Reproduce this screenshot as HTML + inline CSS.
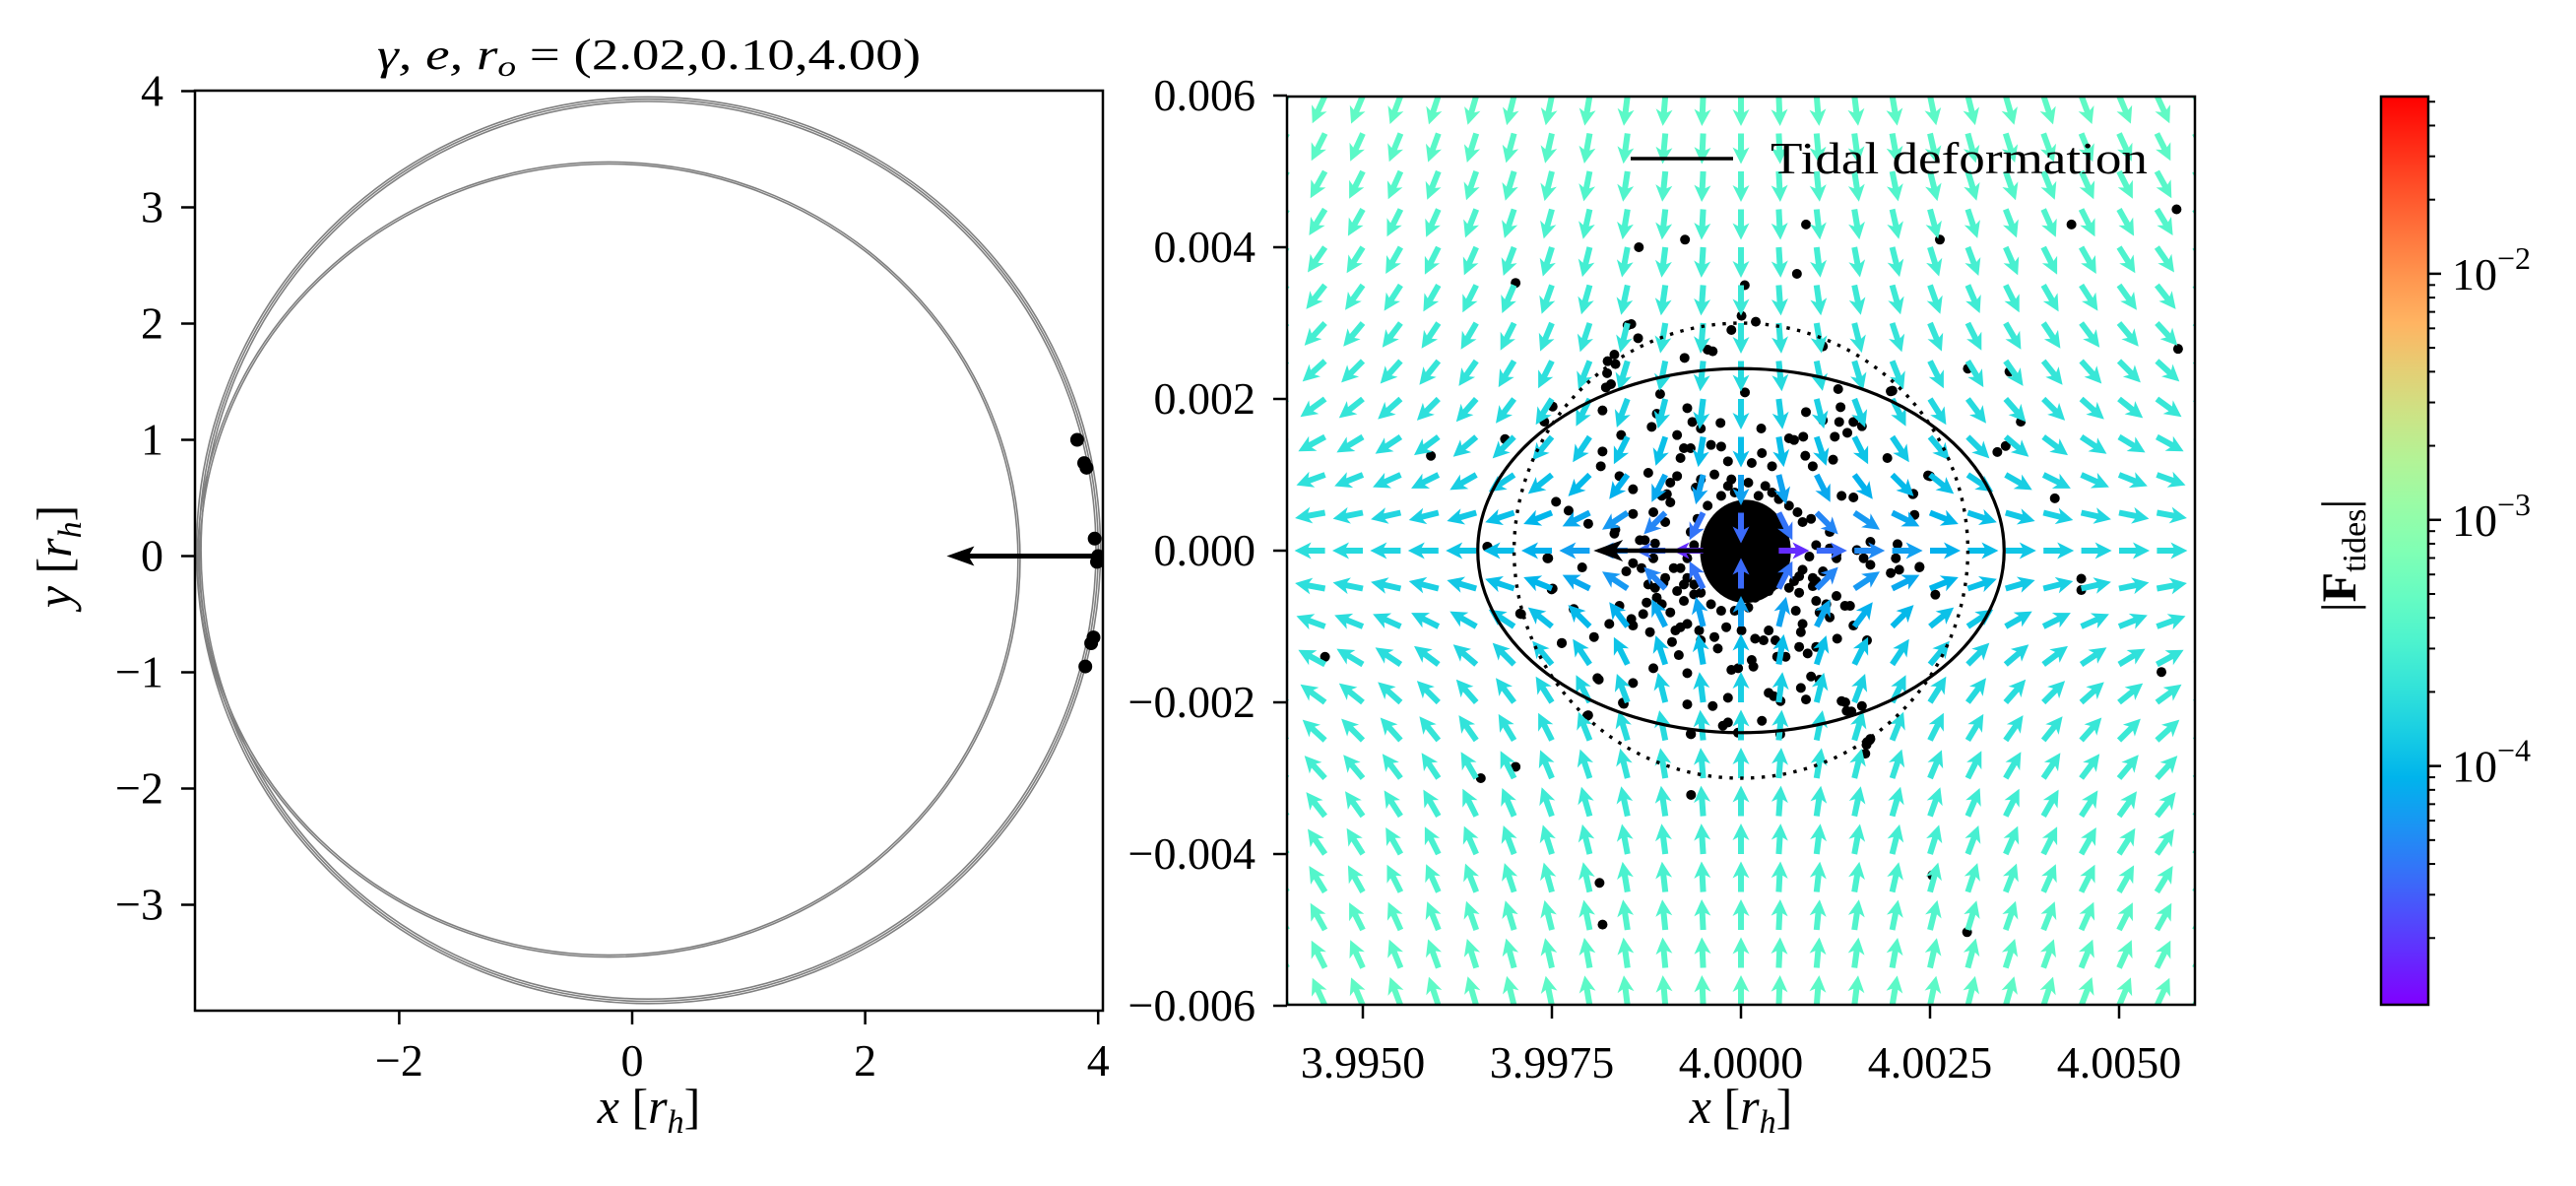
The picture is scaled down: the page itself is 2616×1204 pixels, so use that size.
<!DOCTYPE html>
<html><head><meta charset="utf-8">
<style>
html,body{margin:0;padding:0;background:#fff;}
svg{display:block;font-family:"Liberation Serif",serif;}
</style></head>
<body>
<svg id="fig" xmlns="http://www.w3.org/2000/svg" width="2616" height="1204" viewBox="0 0 2616 1204">
<defs>
<clipPath id="clipL"><rect x="198" y="92" width="922" height="934"/></clipPath>
<clipPath id="clipR"><rect x="1307" y="98" width="922" height="922"/></clipPath>
<linearGradient id="cbgrad" x1="0" y1="1" x2="0" y2="0"></linearGradient>
</defs>
<g id="left"></g>
<g id="right"></g>
<g id="cbar"></g>
</svg>
<script>
// ---------- data ----------
const leftXTicks = [-2, 0, 2, 4];
const leftYTicks = [-3, -2, -1, 0, 1, 2, 3, 4];
// orbit loops: [centerX, centerY, radiusX, radiusY] in r_h
const orbitOuter = [0.14, 0.05, 3.88, 3.90];
const orbitInner = [-0.20, -0.03, 3.53, 3.42];
const outerStrands = [1.0, 0.995, 0.99];
const innerStrands = [1.0, 0.995];
const leftDots = [[3.82,1.0],[3.88,0.8],[3.9,0.76],[3.97,0.15],[4.0,0.0],[3.99,-0.05],[3.96,-0.7],[3.94,-0.75],[3.89,-0.95]];
const leftArrow = [4.0, 0.0, -1.3, 0.0];

const rightXTicks = [3.995, 3.9975, 4.0, 4.0025, 4.005];
const rightXTickLabels = ["3.9950","3.9975","4.0000","4.0025","4.0050"];
const rightYTicks = [-0.006,-0.004,-0.002,0,0.002,0.004,0.006];
const rightYTickLabels = ["\u22120.006","\u22120.004","\u22120.002","0.000","0.002","0.004","0.006"];
const gridX = [-12,-11,-10,-9,-8,-7,-6,-5,-4,-3,-2,-1,0,1,2,3,4,5,6,7,8,9,10,11,12];
const gridY = [-12,-11,-10,-9,-8,-7,-6,-5,-4,-3,-2,-1,0,1,2,3,4,5,6,7,8,9,10,11,12];
const gridStep = [0.0005];
const tidalStrength = [0.034];
const ellipseAxes = [0.00348, 0.0024];
const circleRadius = [0.003];
const clusterCore = [0.6, -0.1, 6.0, 6.8];
const bigArrow = [0.0, 0.0, -0.00195, 0.0];
// scatter outliers in units of 1e-4 r_h offset from (4,0)
const outlierDots = [[57.6,45],[43.7,43],[26.3,41],[8.6,43],[-7.4,41],[-13.5,40],[7.4,36.5],[-29.8,35.3],[0.5,35],[57.8,26.6],[-41,12.5],[37,17],[35,13.8],[33.9,13],[41.5,6.9],[45,-3.7],[45,-5.2],[-55,-14],[55.6,-16],[-34.4,-30],[-29.8,-28.5],[-6.6,-32.2],[-18.7,-43.8],[-18.3,-49.3],[29.9,-50.3],[25.3,-42.8],[16.6,-25.6],[17,-25],[25.7,-5.8],[23.6,-2.2],[30,24],[35.5,23.6],[10.8,27],[19.8,21],[25,9.8],[22.8,7.5],[-15,29.7],[-16.6,24.6],[-17.7,23.4],[-24.9,19],[-26,17],[-31.2,14.7],[-33.5,0.5],[-25.6,-1],[-24.9,-5],[-29.2,-8.3],[-22.1,-7.7],[-23.7,-12.2],[-18.8,-17],[-15.5,-20.2],[-20.2,-21.7],[-0.4,-24],[-6.6,-24.2],[5.2,-24.2],[14.6,-21.2],[13.8,-20]];
// inner scatter read in zoomed pixel coords (u,v) of the central region
const innerDotsUV = [[455,87],[475,130],[405,180],[385,200],[395,270],[380,280],[612,190],[680,165],[695,170],[750,105],[780,62],[822,80],[1020,155],[790,295],[540,300],[530,360],[515,400],[620,343],[635,385],[660,405],[718,388],[838,405],[370,350],[425,425],[370,475],[365,520],[590,425],[610,465],[630,465],[600,495],[690,455],[720,460],[740,505],[810,510],[840,480],[870,520],[920,435],[935,440],[962,430],[968,488],[990,520],[970,355],[1020,380],[1065,285],[1072,340],[1068,385],[1110,385],[1135,398],[1092,418],[1055,430],[1050,500],[1210,495],[1225,290],[1330,548],[1285,605],[1290,668],[1160,750],[1240,757],[1235,800],[1305,826],[1220,845],[1245,835],[1160,820],[1140,800],[1120,775],[1075,610],[1110,615],[1040,720],[1020,840],[1060,800],[1000,870],[990,860],[1030,940],[1060,915],[1085,945],[1100,945],[1040,980],[1010,965],[1000,930],[950,905],[940,960],[960,1000],[955,1025],[1110,1005],[1150,1050],[1062,1045],[1000,1070],[975,1090],[950,1070],[985,1160],[1010,1170],[955,1195],[970,1230],[1075,1235],[1090,1265],[1135,1250],[1150,1360],[1160,1350],[1145,1395],[895,1235],[875,1220],[840,1295],[860,1210],[810,1110],[815,1130],[770,1135],[750,1140],[740,1225],[695,1250],[740,1300],[725,1310],[630,1335],[620,1245],[620,1150],[595,1095],[575,1055],[520,1135],[460,1180],[430,1240],[355,1165],[325,1280],[285,955],[250,1058],[220,895],[130,970],[345,1040],[390,1000],[420,945],[455,985],[460,1005],[490,970],[500,935],[510,1025],[530,920],[545,940],[570,965],[585,1020],[600,1010],[620,1000],[655,1020],[660,1050],[710,1075],[700,1040],[735,1010],[780,1020],[820,1045],[845,1050],[860,1020],[880,1050],[885,1100],[910,1100],[30,765],[210,800],[310,828],[328,695],[270,655],[233,628],[405,725],[408,713],[460,665],[520,660],[555,690],[480,745],[495,745],[525,755],[520,800],[440,840],[460,815],[485,830],[505,880],[525,890],[550,875],[555,860],[580,830],[610,880],[590,900],[610,930],[640,910],[560,605],[570,630],[545,610],[590,550],[570,570],[505,540],[460,590],[420,550],[645,585],[660,560],[700,545],[740,580],[750,560],[800,570],[850,580],[870,600],[890,620],[920,640],[945,660],[960,690],[985,680],[1000,760],[980,795],[960,835],[950,855],[935,870],[1040,770],[1060,790],[990,885],[920,890],[880,880],[860,900],[820,920],[800,950],[760,960],[720,960],[690,940],[660,905],[640,880],[620,860],[600,830],[620,800],[640,760],[630,720],[650,680],[680,640],[720,610],[760,600],[830,610]];

const cbMajorTicks = [-2, -3, -4];
const cbMajorLabels = ["\u22122","\u22123","\u22124"];
const cbLogMin = [-4.97];
const cbLogMax = [-1.28];

// ---------- helpers ----------
const NS = "http://www.w3.org/2000/svg";
function mk(tag, attrs, parent){
  const e = document.createElementNS(NS, tag);
  for (const k in attrs) e.setAttribute(k, attrs[k]);
  if (parent) parent.appendChild(e);
  return e;
}
function rainbow(t){
  t = Math.max(0, Math.min(1, t));
  const r = Math.min(1, Math.abs(2*t - 0.5));
  const g = Math.sin(Math.PI*t);
  const b = Math.cos(Math.PI*t/2);
  return "rgb(" + Math.round(r*255) + "," + Math.round(g*255) + "," + Math.round(b*255) + ")";
}

// ---------- LEFT PANEL ----------
const L = document.getElementById("left");
const lx = v => 642 + v*118.3;
const ly = v => 564.5 - v*118.0;

const orbitG = mk("g", {"clip-path":"url(#clipL)"}, L);


function drawLoop(loop, strands){
  strands.forEach(s=>{
    const e = mk("ellipse", {cx:lx(loop[0]), cy:ly(loop[1]), rx:loop[2]*s*118.3, ry:loop[3]*s*118.0, fill:"none", stroke:"#808080", "stroke-width":"1.6"}, orbitG);
    
    
  });
}
drawLoop(orbitOuter, outerStrands);
drawLoop(orbitInner, innerStrands);
leftDots.forEach(pt=>{
  const c = mk("circle", {cx:lx(pt[0]), cy:ly(pt[1]), r:7, fill:"#000"}, orbitG);
  
  
});
{
  const x0 = lx(leftArrow[0]), y0 = ly(leftArrow[1]);
  const x1 = lx(leftArrow[0]+leftArrow[2]), y1 = ly(leftArrow[1]+leftArrow[3]);
  const g = mk("g", {}, orbitG);
  
  
  mk("line", {x1:x0, y1:y0, x2:x1+20, y2:y1, stroke:"#000","stroke-width":5}, g);
  mk("polygon", {points:`${x1},${y1} ${x1+28},${y1-10} ${x1+22},${y1} ${x1+28},${y1+10}`, fill:"#000"}, g);
}
{
  const f = mk("rect", {x:198,y:92,width:922,height:934,fill:"none",stroke:"#000","stroke-width":2.5}, L);
  
  
}
leftXTicks.forEach(v=>{
  const x = lx(v);
  mk("line",{x1:x,y1:1026,x2:x,y2:1040,stroke:"#000","stroke-width":2.5},L);
  const t = mk("text",{x:x,y:1092,"font-size":46,"text-anchor":"middle"},L);
  t.textContent = v<0 ? "\u2212"+(-v) : String(v);
  
  
});
leftYTicks.forEach(v=>{
  const y = ly(v);
  mk("line",{x1:184,y1:y,x2:198,y2:y,stroke:"#000","stroke-width":2.5},L);
  const t = mk("text",{x:166,y:y+15,"font-size":46,"text-anchor":"end"},L);
  t.textContent = v<0 ? "\u2212"+(-v) : String(v);
  
  
});
{
  const t = mk("text",{x:659,y:1140,"font-size":50,"text-anchor":"middle"},L);
  t.innerHTML = '<tspan font-style="italic">x</tspan> [<tspan font-style="italic">r</tspan><tspan font-style="italic" font-size="34" dy="10">h</tspan><tspan dy="-10">]</tspan>';
  
  
  const t2 = mk("text",{x:0,y:0,"font-size":50,"text-anchor":"middle",transform:"translate(72,565) rotate(-90)"},L);
  t2.innerHTML = '<tspan font-style="italic">y</tspan> [<tspan font-style="italic">r</tspan><tspan font-style="italic" font-size="34" dy="10">h</tspan><tspan dy="-10">]</tspan>';
  
  
  const t3 = mk("text",{x:659,y:70,"font-size":44,"text-anchor":"middle",textLength:552,lengthAdjust:"spacingAndGlyphs"},L);
  t3.innerHTML = '<tspan font-style="italic">\u03b3, e, r</tspan><tspan font-style="italic" font-size="30" dy="7">o</tspan><tspan dy="-7"> = (2.02,0.10,4.00)</tspan>';
  
  
}

// ---------- RIGHT PANEL ----------
const R = document.getElementById("right");
const rx = dx => 1768 + dx*76800;   // dx = x - 4
const ry = dy => 559 - dy*77000;
const plot = mk("g", {"clip-path":"url(#clipR)"}, R);



// scatter dots
const dotsG = mk("g", {fill:"#000"}, plot);


outlierDots.forEach(p=>{
  const c = mk("circle",{cx:rx(p[0]*1e-4), cy:ry(p[1]*1e-4), r:5}, dotsG);
  
  
});
innerDotsUV.forEach(p=>{
  const dx = p[0]*0.04484 - 34.9, dy = 33.64 - p[1]*0.0433;
  const c = mk("circle",{cx:rx(dx*1e-4), cy:ry(dy*1e-4), r:5}, dotsG);
  
  
});
{
  const e = mk("ellipse",{cx:rx(clusterCore[0]*1e-4), cy:ry(clusterCore[1]*1e-4), rx:clusterCore[2]*7.68, ry:clusterCore[3]*7.7, fill:"#000"}, dotsG);
  
  
}

// quiver
const quiv = mk("g", {}, plot);


const span = cbLogMax[0] - cbLogMin[0];
gridX.forEach(i=>{
  gridY.forEach(j=>{
    const dx = i*gridStep[0], dy = j*gridStep[0];
    const fx = dx, fy = -2*dy;
    const m = Math.hypot(fx, fy);
    if (m === 0) return;
    const mag = tidalStrength[0]*m;
    const col = rainbow((Math.log10(mag) - cbLogMin[0]) / span);
    const ux = fx/m, uy = -fy/m; // screen dir
    const x0 = rx(dx), y0 = ry(dy);
    const Lh = 31, hl = 14, hw = 8.5, sw = 3.0;
    const px = -uy, py = ux;
    const bx = x0 + ux*(Lh-hl), by = y0 + uy*(Lh-hl);
    const tx = x0 + ux*Lh, ty = y0 + uy*Lh;
    const pts = [
      [x0+px*sw, y0+py*sw],[bx+px*sw, by+py*sw],[bx+px*hw - ux*3, by+py*hw - uy*3],[tx,ty],
      [bx-px*hw - ux*3, by-py*hw - uy*3],[bx-px*sw, by-py*sw],[x0-px*sw, y0-py*sw]
    ].map(q=>q[0].toFixed(1)+","+q[1].toFixed(1)).join(" ");
    const a = mk("polygon",{points:pts, fill:col}, quiv);
    
    
  });
});

// ellipse and circle
{
  const e = mk("ellipse",{cx:rx(0),cy:ry(0),rx:ellipseAxes[0]*76800, ry:ellipseAxes[1]*77000, fill:"none", stroke:"#000","stroke-width":3.2}, plot);
  
  
  const c = mk("ellipse",{cx:rx(0),cy:ry(0),rx:circleRadius[0]*76800, ry:circleRadius[0]*77000, fill:"none", stroke:"#000","stroke-width":3.4,"stroke-dasharray":"3.4 7.5","stroke-linecap":"butt"}, plot);
  
  
}
// big arrow
{
  const x0 = rx(bigArrow[0]), y0 = ry(bigArrow[1]);
  const x1 = rx(bigArrow[0]+bigArrow[2]), y1 = ry(bigArrow[1]+bigArrow[3]);
  const g = mk("g", {}, plot);
  
  
  mk("line",{x1:x0,y1:y0,x2:x1+22,y2:y1,stroke:"#000","stroke-width":4.5},g);
  mk("polygon",{points:`${x1},${y1} ${x1+30},${y1-11} ${x1+22},${y1} ${x1+30},${y1+11}`,fill:"#000"},g);
}
// legend
{
  const g = mk("g", {}, R);
  
  
  const l = mk("line",{x1:1656,y1:161,x2:1760,y2:161,stroke:"#000","stroke-width":3.5},g);
  
  
  const t = mk("text",{x:1798,y:176,"font-size":46,textLength:383,lengthAdjust:"spacingAndGlyphs"},g);
  t.textContent = "Tidal deformation";
  
  
}
{
  const f = mk("rect",{x:1307,y:98,width:922,height:922,fill:"none",stroke:"#000","stroke-width":2.5},R);
  
  
}
rightXTicks.forEach((v,k)=>{
  const x = rx(v-4);
  mk("line",{x1:x,y1:1020,x2:x,y2:1034,stroke:"#000","stroke-width":2.5},R);
  const t = mk("text",{x:x,y:1094,"font-size":46,"text-anchor":"middle"},R);
  t.textContent = rightXTickLabels[k];
  
  
});
rightYTicks.forEach((v,k)=>{
  const y = ry(v);
  mk("line",{x1:1293,y1:y,x2:1307,y2:y,stroke:"#000","stroke-width":2.5},R);
  const t = mk("text",{x:1275,y:y+15,"font-size":46,"text-anchor":"end"},R);
  t.textContent = rightYTickLabels[k];
  
  
});
{
  const t = mk("text",{x:1768,y:1140,"font-size":50,"text-anchor":"middle"},R);
  t.innerHTML = '<tspan font-style="italic">x</tspan> [<tspan font-style="italic">r</tspan><tspan font-style="italic" font-size="34" dy="10">h</tspan><tspan dy="-10">]</tspan>';
  
  
}

// ---------- COLORBAR ----------
const C = document.getElementById("cbar");
const grad = document.getElementById("cbgrad");
for (let i=0;i<=20;i++){
  mk("stop",{offset:(i/20), "stop-color":rainbow(i/20)}, grad);
}
const cbTop = 98, cbBot = 1020, cbL = 2418, cbR = 2466;
const cy = lg => cbBot - (lg - cbLogMin[0])/span*(cbBot-cbTop);
{
  const r = mk("rect",{x:cbL,y:cbTop,width:cbR-cbL,height:cbBot-cbTop,fill:"url(#cbgrad)",stroke:"#000","stroke-width":2.5},C);
  
  
}
for (let d=-5; d<=-2; d++){
  for (let m=2; m<=9; m++){
    const lg = d + Math.log10(m);
    if (lg < cbLogMin[0] || lg > cbLogMax[0]) continue;
    const y = cy(lg);
    mk("line",{x1:cbR,y1:y,x2:cbR+7,y2:y,stroke:"#000","stroke-width":2},C);
  }
}
cbMajorTicks.forEach((lg,k)=>{
  const y = cy(lg);
  mk("line",{x1:cbR,y1:y,x2:cbR+13,y2:y,stroke:"#000","stroke-width":2.5},C);
  const t = mk("text",{x:2490,y:y+16,"font-size":46},C);
  t.innerHTML = '10<tspan font-size="32" dy="-21">' + cbMajorLabels[k] + '</tspan>';
  
  
});
{
  const t = mk("text",{x:0,y:0,"font-size":50,"text-anchor":"middle",transform:"translate(2392,564) rotate(-90)"},C);
  t.innerHTML = '|<tspan font-weight="bold">F</tspan><tspan font-size="34" dy="10">tides</tspan><tspan dy="-10">|</tspan>';
  
  
}
</script>
</body></html>
